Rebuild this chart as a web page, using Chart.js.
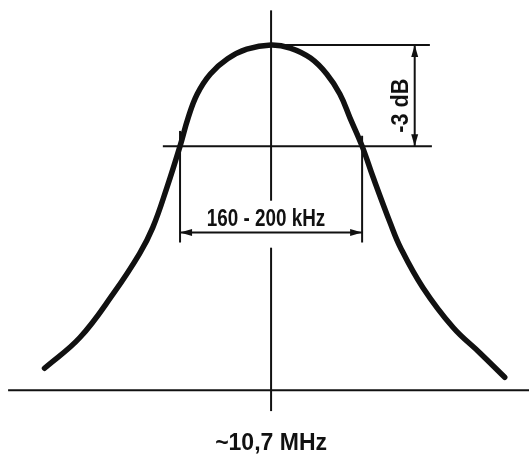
<!DOCTYPE html>
<html>
<head>
<meta charset="utf-8">
<script src="https://cdn.jsdelivr.net/npm/chart.js@4"></script>
<style>
  html, body { margin: 0; padding: 0; background: #fff; }
  #wrap { width: 529px; height: 456px; position: relative; }
</style>
</head>
<body>
<div id="wrap"><canvas id="curve"></canvas></div>
<script>
// frequency offset from the IF centre (kHz) and relative level (peak = 1)
const freqKHz = [-224, -189, -156, -130, -117, -103, -90, -82, -73, -60, -43, -24, 0,
                 19, 39, 55, 68, 78, 90, 101, 118, 128, 150, 180, 207, 231];
const level   = [0.064, 0.153, 0.280, 0.396, 0.471, 0.587, 0.707, 0.789, 0.858, 0.916, 0.960, 0.988, 1.000,
                 0.991, 0.962, 0.916, 0.858, 0.789, 0.707, 0.616, 0.483, 0.413, 0.298, 0.182, 0.107, 0.038];

// guide lines, in the same units
const baselineSpan = [-260, 258];
const centreUpper = [0.549, 1.10];
const centreLower = [-0.06, 0.413];
const halfPower = 0.707;
const halfPowerSpan = [-107, 159];
const peakRefSpan = [0, 157];
const dropArrowKHz = 142;
const bandEdges = [-90, 90];
const bandLevel = 0.457;
const leftTickSpan = [0.428, 0.751];
const rightTickSpan = [0.428, 0.737];

const bandLabel = '160 - 200 kHz';
const centreLabel = '~10,7 MHz';
const dropLabel = '-3 dB';

const INK = '#111';
const FONT = "bold 23px 'Liberation Sans', Arial, sans-serif";

function seg(x0, y0, x1, y1, w) {
  return {
    data: [{x: x0, y: y0}, {x: x1, y: y1}],
    showLine: true, borderColor: INK, borderWidth: w || 2,
    pointRadius: 0, pointHoverRadius: 0
  };
}

const datasets = [
  {
    data: freqKHz.map((f, i) => ({x: f, y: level[i]})),
    showLine: true,
    borderColor: INK,
    borderWidth: 5.5,
    borderCapStyle: 'round',
    tension: 0.4,
    pointRadius: 0, pointHoverRadius: 0
  },
  seg(baselineSpan[0], 0, baselineSpan[1], 0),
  seg(0, centreUpper[0], 0, centreUpper[1]),
  seg(0, centreLower[0], 0, centreLower[1]),
  seg(halfPowerSpan[0], halfPower, halfPowerSpan[1], halfPower),
  seg(peakRefSpan[0], 1, peakRefSpan[1], 1),
  seg(dropArrowKHz, 1, dropArrowKHz, halfPower),
  seg(bandEdges[0], bandLevel, bandEdges[1], bandLevel),
  seg(bandEdges[0], leftTickSpan[0], bandEdges[0], leftTickSpan[1]),
  seg(bandEdges[1], rightTickSpan[0], bandEdges[1], rightTickSpan[1])
];

function arrowHead(ctx, x, y, dx, dy) {
  // tip at (x, y), pointing along (dx, dy)
  const len = 12, half = 3.5;
  const px = -dy, py = dx;
  ctx.beginPath();
  ctx.moveTo(x, y);
  ctx.lineTo(x - dx * len + px * half, y - dy * len + py * half);
  ctx.lineTo(x - dx * len - px * half, y - dy * len - py * half);
  ctx.closePath();
  ctx.fill();
}

function label(ctx, text, x, y, squeeze, angle) {
  ctx.save();
  ctx.translate(x, y);
  if (angle) ctx.rotate(angle);
  ctx.scale(squeeze, 1);
  ctx.fillText(text, 0, 0);
  ctx.restore();
}

const notes = {
  id: 'notes',
  afterDatasetsDraw(chart) {
    const ctx = chart.ctx;
    const sx = chart.scales.x, sy = chart.scales.y;
    ctx.save();
    ctx.fillStyle = INK;

    // -3 dB arrow
    const ax = sx.getPixelForValue(dropArrowKHz);
    arrowHead(ctx, ax, sy.getPixelForValue(1), 0, -1);
    arrowHead(ctx, ax, sy.getPixelForValue(halfPower), 0, 1);

    // bandwidth arrow
    const by = sy.getPixelForValue(bandLevel);
    arrowHead(ctx, sx.getPixelForValue(bandEdges[0]), by, -1, 0);
    arrowHead(ctx, sx.getPixelForValue(bandEdges[1]), by, 1, 0);

    ctx.font = FONT;
    ctx.textAlign = 'center';
    ctx.textBaseline = 'alphabetic';
    label(ctx, bandLabel, sx.getPixelForValue(-5), sy.getPixelForValue(0.476), 0.82);
    label(ctx, centreLabel, sx.getPixelForValue(0), sy.getPixelForValue(-0.173), 1.0);
    label(ctx, dropLabel, sx.getPixelForValue(135.5), sy.getPixelForValue(0.824), 0.94, -Math.PI / 2);
    ctx.restore();
  }
};

new Chart(document.getElementById('curve'), {
  type: 'scatter',
  data: { datasets: datasets },
  options: {
    responsive: true,
    maintainAspectRatio: false,
    animation: false,
    layout: { padding: 0 },
    plugins: { legend: { display: false }, tooltip: { enabled: false } },
    scales: {
      x: { type: 'linear', display: false, min: -268, max: 255 },
      y: { type: 'linear', display: false, min: -0.19, max: 1.13 }
    }
  },
  plugins: [notes]
});
</script>
</body>
</html>
